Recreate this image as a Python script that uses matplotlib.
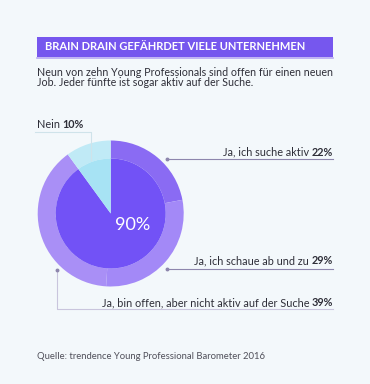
import matplotlib
matplotlib.use("Agg")
import matplotlib.pyplot as plt
from matplotlib.patches import Rectangle

plt.rcParams['font.family'] = ['Lato', 'DejaVu Sans']

# data
ring_labels = ["Ja, ich suche aktiv", "Ja, ich schaue ab und zu",
               "Ja, bin offen, aber nicht aktiv auf der Suche", "Nein"]
ring_values = [22, 29, 39, 10]
ring_colors = ["#8a6bf3", "#a389f7", "#a98ff6", "#c0eaf6"]
inner_values = [90, 10]
inner_colors = ["#7252f6", "#a7e3f4"]

title = "BRAIN DRAIN GEFÄHRDET VIELE UNTERNEHMEN"
subtitle = ["Neun von zehn Young Professionals sind offen für einen neuen",
            "Job. Jeder fünfte ist sogar aktiv auf der Suche."]
source = "Quelle: trendence Young Professional Barometer 2016"

W, H = 370, 384
bg = "#f3f8fb"
txt = "#2e2e38"
linec = "#8d86ad"
fs = 7.8

fig = plt.figure(figsize=(W / 100, H / 100), dpi=100, facecolor=bg)
ax = fig.add_axes([0, 0, 1, 1])
ax.set_facecolor(bg)

def Y(y):
    # image coords (top-down) -> axes coords
    return H - y

cx, cy = 110.7, Y(213.5)
R = 73

ax.pie(ring_values, radius=R, center=(cx, cy), startangle=90, counterclock=False,
       colors=ring_colors, wedgeprops=dict(width=18, linewidth=0))
ax.pie(inner_values, radius=55, center=(cx, cy), startangle=90, counterclock=False,
       colors=inner_colors, wedgeprops=dict(linewidth=0))
ax.text(cx + 22, cy - 12, f"{inner_values[0]}%", color="white", fontsize=13,
        ha="center", va="center")

ax.set_xlim(0, W)
ax.set_ylim(0, H)
ax.set_aspect("equal")
ax.axis("off")

def width_of(t):
    fig.canvas.draw()
    bb = t.get_window_extent().transformed(ax.transData.inverted())
    return bb.x0, bb.x1

# title bar
ax.add_patch(Rectangle((37, Y(57)), 296, 20, color="#7657ee", lw=0))
ax.plot([37, 333], [Y(57.8), Y(57.8)], color="#b7a8f3", lw=1.2)
ax.text(45, Y(47), title, color="white", fontsize=8.0, fontweight="bold",
        ha="left", va="center")

for i, line in enumerate(subtitle):
    ax.text(37, Y(72 + i * 11), line, color=txt, fontsize=7.7, ha="left", va="center")

# Nein label
t = ax.text(37, Y(125), ring_labels[3], color=txt, fontsize=fs, ha="left", va="center")
x0, x1 = width_of(t)
ax.text(x1 + 2.5, Y(125), f"{ring_values[3]}%", color=txt, fontsize=fs, fontweight="bold",
        ha="left", va="center")
ax.plot([35, 91, 91], [Y(131.5), Y(131.5), Y(160)], color="#cfe3ea", lw=0.8)

# right labels
label_rows = [(0, 152, 159.3, 167), (1, 261, 269, 167), (2, 302.5, 309.3, 57)]
for idx, ty, ly, lx in label_rows:
    t = ax.text(333, Y(ty), f"{ring_values[idx]}%", color=txt, fontsize=fs,
                fontweight="bold", ha="right", va="center")
    x0, x1 = width_of(t)
    ax.text(x0 - 2.5, Y(ty), ring_labels[idx], color=txt, fontsize=fs,
            ha="right", va="center")
    if idx == 2:
        ax.plot([57, 57, 333], [Y(270), Y(ly), Y(ly)], color="#c9c5dd", lw=0.8)
        ax.plot([57], [Y(270)], "o", color=linec, ms=1.8)
    else:
        ax.plot([lx, 333], [Y(ly), Y(ly)], color=linec, lw=0.8)
        ax.plot([lx], [Y(ly)], "o", color=linec, ms=1.8)

ax.text(37, Y(356.5), source, color="#50505a", fontsize=6.8, ha="left", va="center")

fig.savefig("out.png", dpi=100, facecolor=bg)
